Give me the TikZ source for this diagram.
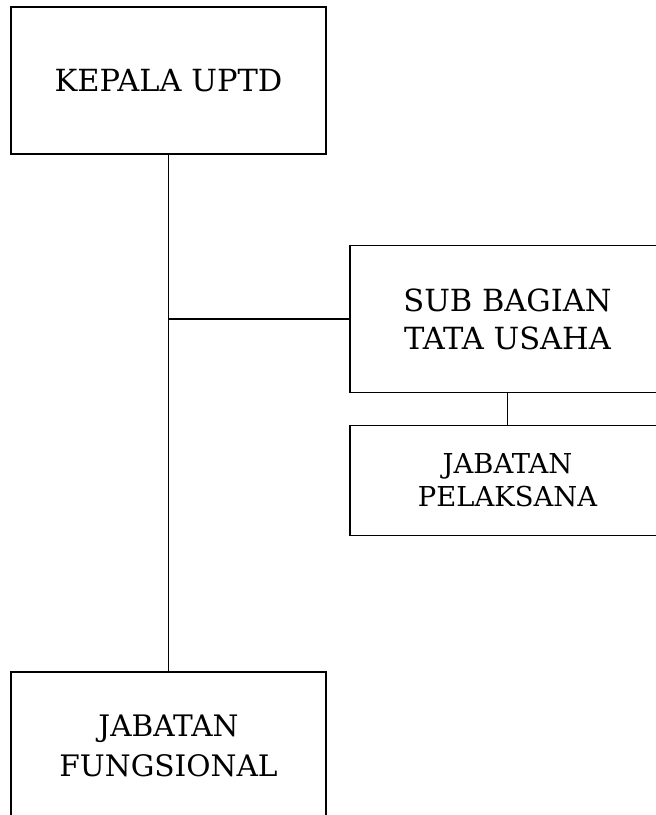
\documentclass[tikz,border=0pt]{standalone}
\usepackage{fontspec}
\setmainfont{DejaVu Serif}
\begin{document}
\begin{tikzpicture}[x=1pt,y=-1pt,
  box/.style={draw=black,line width=1.8pt,rectangle,align=center,inner sep=0pt,
    minimum width=315pt,font=\fontsize{30.5}{38}\selectfont},
  conn/.style={draw=black,line width=1.8pt}]
\useasboundingbox (0,0) rectangle (656,815);
\clip (0,0) rectangle (656,815);
\node[box,minimum height=147pt] (kepala) at (168.5,80.5) {KEPALA UPTD};
\node[box,minimum height=147pt] (sub) at (507.5,319) {SUB BAGIAN\\TATA USAHA};
\node[box,minimum height=110pt,font=\fontsize{27.4}{33}\selectfont] (pel) at (507.5,480.5) {JABATAN\\PELAKSANA};
\node[box,minimum height=147pt,font=\fontsize{29.6}{40}\selectfont] (fung) at (168.5,745.5) {JABATAN\\FUNGSIONAL};
\draw[conn] (kepala.south) -- (fung.north);
\draw[conn] (kepala.south |- sub.west) -- (sub.west);
\draw[conn] (sub.south) -- (pel.north);
\end{tikzpicture}
\end{document}
